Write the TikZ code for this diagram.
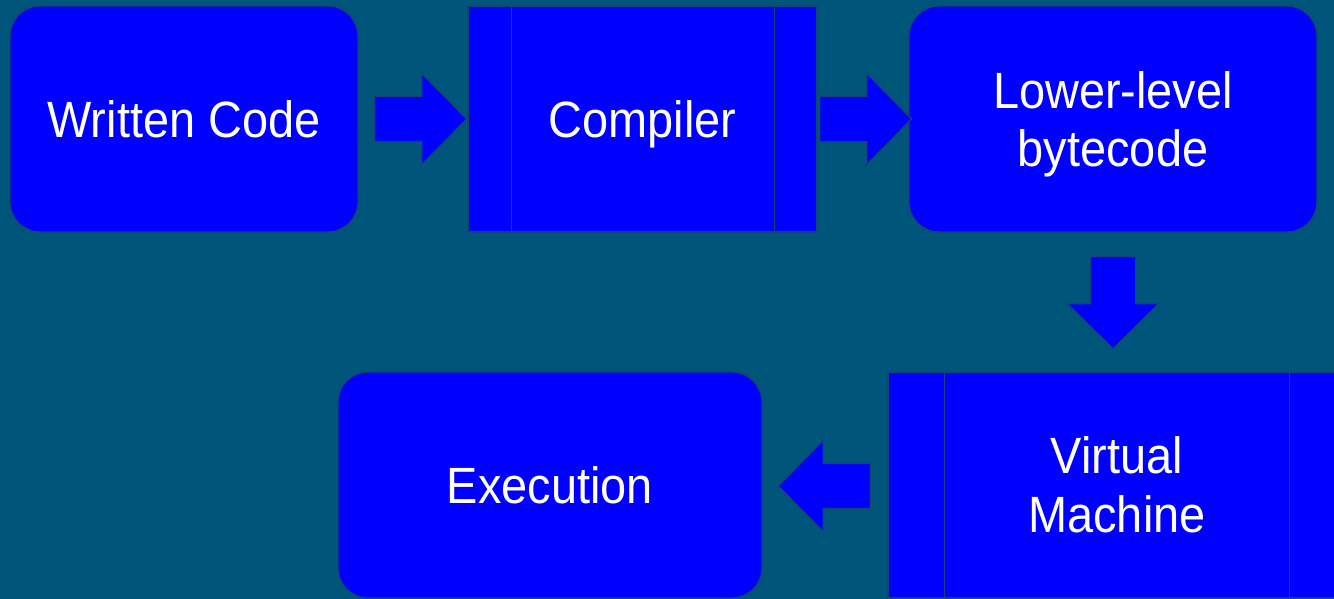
\documentclass[tikz,border=0pt]{standalone}
\usepackage{fontspec}
\setmainfont[FakeStretch=0.92]{Liberation Sans}
\usetikzlibrary{calc}
\begin{document}
\begin{tikzpicture}[x=1pt,y=1pt,
  box/.style={draw=edgecol,line width=1.4pt,fill=boxblue,text=white,
    minimum height=226pt,inner sep=0pt,align=center,
    font=\fontsize{51}{58}\selectfont},
  roundbox/.style={box,rounded corners=30pt},
  bar/.style={draw=edgecol,line width=1.4pt},
  arrowshape/.style={draw=edgecol,line width=1.2pt,fill=boxblue},
  blockarrow/.pic={\path[arrowshape] (0,-22.5) -- (47,-22.5) -- (47,-45.5) -- (92,0) -- (47,45.5) -- (47,22.5) -- (0,22.5) -- cycle;}
]
\definecolor{bgcol}{HTML}{00557A}
\definecolor{boxblue}{HTML}{0000FF}
\definecolor{edgecol}{HTML}{164470}
\useasboundingbox (0,0) rectangle (1334,-599);
\fill[bgcol] (0,0) rectangle (1334,-599);

\node[roundbox,minimum width=348pt] (wc) at (184,-119) {Written Code};
\node[box,minimum width=349pt,text depth=0pt] (comp) at (642.5,-119) {Compiler};
\draw[bar] ([xshift=44pt]comp.north west) -- ([xshift=44pt]comp.south west);
\draw[bar] ([xshift=-43pt]comp.north east) -- ([xshift=-43pt]comp.south east);
\node[roundbox,minimum width=408pt,text depth=0pt] (llb) at (1113,-119) {Lower-level\\bytecode};
\node[box,minimum width=458pt,font=\fontsize{51}{59}\selectfont] (vm) at (1117,-485) {Virtual\\Machine};
\draw[bar] ([xshift=57pt]vm.north west) -- ([xshift=57pt]vm.south west);
\draw[bar] ([xshift=-57pt]vm.north east) -- ([xshift=-57pt]vm.south east);
\node[roundbox,minimum width=424pt] (exe) at (550,-485) {Execution};

\pic at ($(wc.east)+(16,0)$) {blockarrow};
\pic at ($(comp.east)+(2,0)$) {blockarrow};
\pic[rotate=-90] at ($(llb.south)+(0,-24)$) {blockarrow};
\pic[rotate=180] at ($(vm.west)+(-17,-1)$) {blockarrow};
\end{tikzpicture}
\end{document}
